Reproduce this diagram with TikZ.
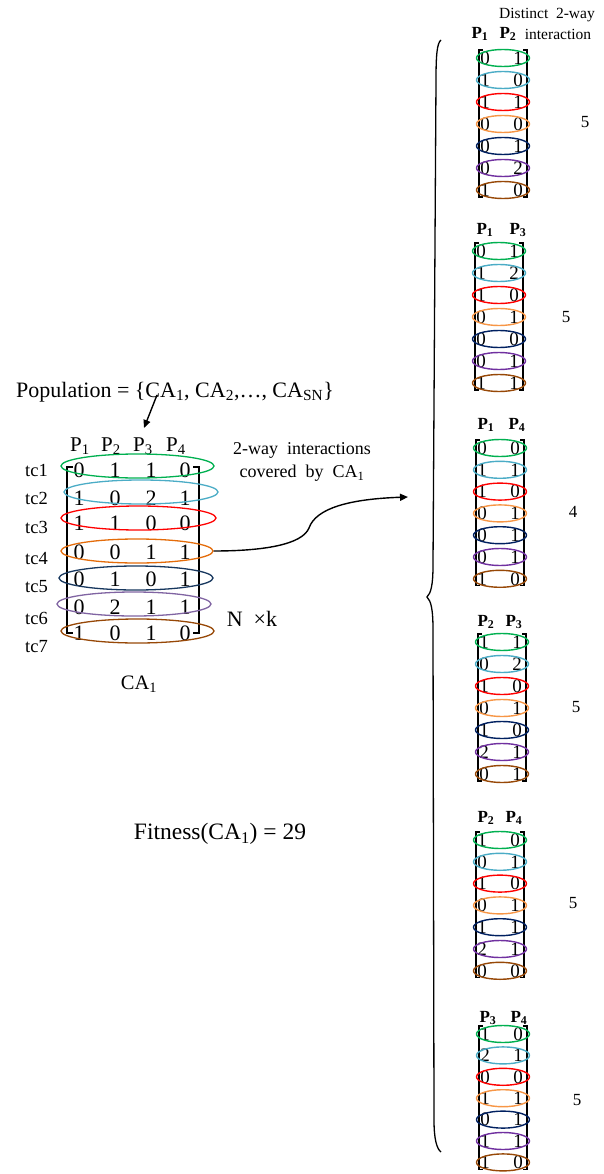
\documentclass[tikz,border=0pt]{standalone}
\usepackage{fontspec}
\setmainfont{Liberation Serif}
\usetikzlibrary{shapes.geometric,arrows.meta}
\definecolor{cgreen}{RGB}{0,176,80}
\definecolor{cblue}{RGB}{75,172,198}
\definecolor{cred}{RGB}{255,0,0}
\definecolor{corange}{RGB}{228,108,10}
\definecolor{corangeb}{RGB}{247,150,70}
\definecolor{cnavy}{RGB}{23,55,94}
\definecolor{cnavyb}{RGB}{0,32,96}
\definecolor{cpurple}{RGB}{128,100,162}
\definecolor{cpurpleb}{RGB}{112,48,160}
\definecolor{cbrown}{RGB}{151,72,7}
\tikzset{
  md/.style={font=\fontsize{22}{22}\selectfont, inner sep=0pt},
  gd/.style={font=\fontsize{19}{19}\selectfont, inner sep=0pt},
  gh/.style={font=\bfseries\fontsize{17}{17}\selectfont, inner sep=0pt},
  me/.style={ellipse, draw, line width=1.3pt, minimum width=153pt, minimum height=24pt, inner sep=0pt},
  ge/.style={ellipse, draw, line width=1.4pt, minimum width=53pt, minimum height=17pt, inner sep=0pt},
  brk/.style={line width=1.2pt},
  lbl/.style={inner sep=0pt},
}
\newcommand\drawgrp[5]{%
  % #1 prefix, #2 cx, #3 y1, #4 dy, #5 digit pairs
  \draw[brk] (#2-20,#3-8) -- (#2-24,#3-8) -- (#2-24,#3+6*#4+7) -- (#2-20,#3+6*#4+7);
  \draw[brk] (#2+20,#3-8) -- (#2+24,#3-8) -- (#2+24,#3+6*#4+7) -- (#2+20,#3+6*#4+7);
  \foreach \a/\b [count=\i from 0] in {#5} {
    \node[gd] (#1da\i) at (#2-18,#3+\i*#4) {\a};
    \node[gd] (#1db\i) at (#2+15,#3+\i*#4) {\b};
  }
  \foreach \c [count=\i from 0] in {cgreen,cblue,cred,corangeb,cnavyb,cpurpleb,cbrown} {
    \node[ge, draw=\c] (#1e\i) at (#2,#3+\i*#4) {};
  }
}
\begin{document}
\begin{tikzpicture}[x=1pt,y=-1pt]
\useasboundingbox (0,0) rectangle (603,1174);

% ---------- main array ----------
\node[lbl, font=\fontsize{22}{22}\selectfont] (pop) at (175,392) {Population = \{CA\textsubscript{1}, CA\textsubscript{2},…, CA\textsubscript{SN}\}};
\coordinate (popA) at (157,395);
\coordinate (popB) at (144,428);
\draw[line width=1.4pt, -{Triangle[length=8pt,width=7pt]}] (popA) -- (popB);

\foreach \t/\x in {1/80,2/111,3/143,4/176} {
  \node[md, font=\fontsize{21}{21}\selectfont] (hp\t) at (\x,446) {P\textsubscript{\t}};
}
\foreach \t/\y in {1/470,2/498,3/527,4/558,5/587,6/618,7/647} {
  \node[md, anchor=west, font=\fontsize{18.5}{18.5}\selectfont] (tc\t) at (25,\y) {tc\t};
}
\draw[brk] (73,467) -- (67,467) -- (67,633) -- (73,633);
\draw[brk] (193,467) -- (199,467) -- (199,633) -- (193,633);

\foreach \r/\y/\va/\vb/\vc/\vd in {1/470/0/1/1/0, 2/498/1/0/2/1, 3/523/1/1/0/0, 4/552/0/0/1/1, 5/579/0/1/0/1, 6/607/0/2/1/1, 7/633/1/0/1/0} {
  \node[md] (m\r a) at (79,\y) {\va};
  \node[md] (m\r b) at (115,\y) {\vb};
  \node[md] (m\r c) at (151,\y) {\vc};
  \node[md] (m\r d) at (185,\y) {\vd};
}
\node[me, draw=cgreen] (e1) at (137.5,466) {};
\node[me, draw=cblue, minimum width=154pt] (e2) at (141,492) {};
\node[me, draw=cred, minimum width=155pt] (e3) at (138.5,518) {};
\node[me, draw=corange, minimum width=152pt] (e4) at (137,551) {};
\node[me, draw=cnavy, minimum width=154pt] (e5) at (136,578) {};
\node[me, draw=cpurple, minimum width=154pt] (e6) at (134,604) {};
\node[me, draw=cbrown] (e7) at (137.5,631) {};

\node[lbl, align=center, font=\fontsize{18}{23}\selectfont] (cov) at (302,462) {2-way\ \ interactions\\covered\ \ by\ \ CA\textsubscript{1}};
\node[lbl, font=\fontsize{22}{22}\selectfont] (nk) at (252,619) {N\ \ ×k};
\node[lbl, font=\fontsize{20.5}{20.5}\selectfont] (ca) at (139,684) {CA\textsubscript{1}};
\node[lbl, font=\fontsize{23.5}{23.5}\selectfont] (fit) at (220,834) {Fitness(CA\textsubscript{1}) = 29};

\coordinate (arrEnd) at (408,497);
\draw[line width=1.4pt, -{Triangle[length=8pt,width=7pt]}] (e4.east) .. controls (262,551) and (302,545) .. (309,528) .. controls (316,508) and (350,499) .. (arrEnd);

% ---------- brace ----------
\draw[line width=1.3pt] (441,40) .. controls (437,43) and (436,55) .. (436,80) -- (433,565) .. controls (433,585) and (431,593) .. (427,597) .. controls (431,601) and (433,609) .. (433,630) -- (434,1120) .. controls (434,1140) and (437,1149) .. (441,1152);

% ---------- groups ----------
\node[lbl, font=\fontsize{15.5}{15.5}\selectfont] (dist) at (547,15) {Distinct\ \ 2-way};
\node[lbl, font=\fontsize{15.5}{15.5}\selectfont] (inter) at (558,34) {interaction};

\drawgrp{g1}{503}{58}{22}{0/1,1/0,1/1,0/0,0/1,0/2,1/0}
\node[gh] (g1h1) at (480,34) {P\textsubscript{1}};
\node[gh] (g1h2) at (508,34) {P\textsubscript{2}};
\node[gd, font=\fontsize{17}{17}\selectfont] (g1n) at (585,122) {5};

\drawgrp{g2}{499}{251}{22}{0/1,1/2,1/0,0/1,0/0,0/1,1/1}
\node[gh] (g2h1) at (485,230) {P\textsubscript{1}};
\node[gh] (g2h2) at (518,230) {P\textsubscript{3}};
\node[gd, font=\fontsize{17}{17}\selectfont] (g2n) at (566,317) {5};

\drawgrp{g3}{500}{448}{21.8}{0/0,1/1,1/0,0/1,0/1,0/1,1/0}
\node[gh] (g3h1) at (486,425) {P\textsubscript{1}};
\node[gh] (g3h2) at (517,425) {P\textsubscript{4}};
\node[gd, font=\fontsize{17}{17}\selectfont] (g3n) at (573,512) {4};

\drawgrp{g4}{502}{642}{22}{1/1,0/2,1/0,0/1,1/0,2/1,0/1}
\node[gh] (g4h1) at (486,622) {P\textsubscript{2}};
\node[gh] (g4h2) at (514,622) {P\textsubscript{3}};
\node[gd, font=\fontsize{17}{17}\selectfont] (g4n) at (576,707) {5};

\drawgrp{g5}{500}{840}{21.8}{1/0,0/1,1/0,0/1,1/1,2/1,0/0}
\node[gh] (g5h1) at (486,818) {P\textsubscript{2}};
\node[gh] (g5h2) at (514,818) {P\textsubscript{4}};
\node[gd, font=\fontsize{17}{17}\selectfont] (g5n) at (573,903) {5};

\drawgrp{g6}{503}{1034}{21.4}{1/0,2/1,0/0,1/1,0/1,1/1,1/0}
\node[gh] (g6h1) at (488,1018) {P\textsubscript{3}};
\node[gh] (g6h2) at (519,1018) {P\textsubscript{4}};
\node[gd, font=\fontsize{17}{17}\selectfont] (g6n) at (577,1100) {5};
\end{tikzpicture}
\end{document}
